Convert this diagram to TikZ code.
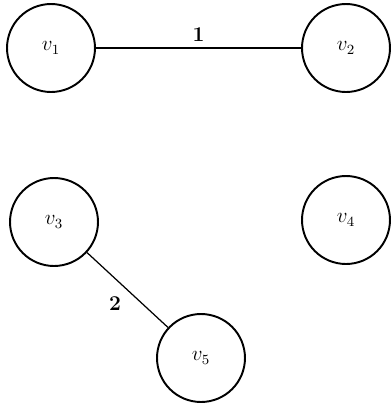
\documentclass[tikz,border=0pt]{standalone}
\begin{document}
\begin{tikzpicture}[
  x=0.02cm,
  y=-0.02cm,
  vertex/.style={draw, circle, line width=1.1pt, minimum size=1.76cm, inner sep=0pt},
  edge/.style={line width=0.7pt},
  weight/.style={font=\large\bfseries},
  every node/.style={font=\large}
]
  \useasboundingbox (0,0) rectangle (392,403);

  % Vertices (pixel coordinates, y downward).
  \node[vertex] (v1) at (51,48) {$v_1$};
  \node[vertex] (v2) at (346,48) {$v_2$};
  \node[vertex] (v3) at (54,222) {$v_3$};
  \node[vertex] (v4) at (346,220) {$v_4$};
  \node[vertex] (v5) at (201,358) {$v_5$};

  % Weighted edges.
  \draw[edge] (v1) -- node[midway, above=0pt, weight] {1} (v2);
  \draw[edge] (v3) -- node[midway, below left=0pt, weight] {2} (v5);
\end{tikzpicture}
\end{document}
